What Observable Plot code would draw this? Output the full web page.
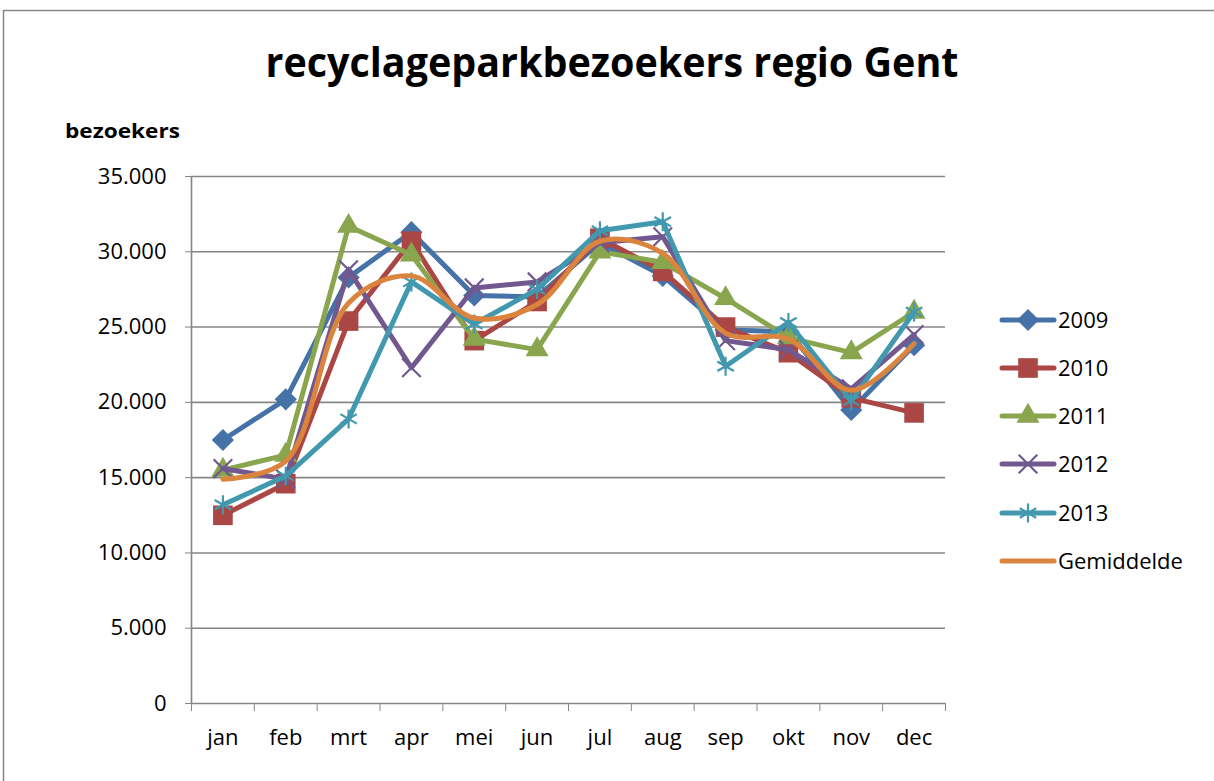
<!DOCTYPE html>
<html>
<head>
<meta charset="utf-8">
<script src="https://cdn.jsdelivr.net/npm/d3@7"></script>
<script src="https://cdn.jsdelivr.net/npm/@observablehq/plot@0.6"></script>
<style>
  html, body { margin: 0; padding: 0; background: white; }
  #chart { width: 1214px; height: 781px; overflow: hidden; }
</style>
</head>
<body>
<div id="chart"></div>
<script>
const months = ["jan","feb","mrt","apr","mei","jun","jul","aug","sep","okt","nov","dec"];
const v2009 = [17500,20200,28300,31300,27100,27000,30600,28400,24800,24700,19500,23800];
const v2010 = [12500,14600,25400,30700,24100,26700,30900,28700,25000,23300,20300,19300];
const v2011 = [15500,16500,31700,29800,24200,23500,30000,29300,26900,24300,23300,26000];
const v2012 = [15600,14900,28800,22300,27600,28000,30600,31000,24100,23500,20900,24500];
const v2013 = [13200,15100,18900,28000,25200,27500,31400,32000,22400,25300,20100,26000];
const gemiddelde = [14900,16100,26600,28400,25600,26500,30700,29900,24600,24200,20800,23900];
const seriesNames = ["2009","2010","2011","2012","2013","Gemiddelde"];
const yTicks = [0,5000,10000,15000,20000,25000,30000,35000];
const title = "recyclageparkbezoekers regio Gent";
const yLabel = "bezoekers";

const colors = ["#4572A7","#AA4643","#89A54E","#71588F","#4198AF","#DB843D"];
const symbols = ["diamond2","square2","triangle2","times","asterisk",null];
const radii = [10,12.5,11,8.5,9,0];
const seriesValues = [v2009,v2010,v2011,v2012,v2013,gemiddelde];

const rows = seriesValues.map(vals => vals.map((v,i) => ({i, v})));
const boundaries = d3.range(months.length + 1).map(k => k - 0.5);
const fmt = d => d === 0 ? "0" : d3.format(",")(d).replace(/,/g, ".");
const grey = "#868686";
const font = "'Open Sans', sans-serif";

const marks = [
  Plot.ruleY(yTicks, {stroke: grey, strokeWidth: 1.6}),
  Plot.ruleX([-0.5], {stroke: grey, strokeWidth: 1.6}),
  Plot.axisY({ticks: yTicks, tickFormat: fmt, tickSize: 6, tickPadding: 19, stroke: grey, label: null}),
  Plot.axisX({ticks: boundaries, tickFormat: () => "", tickSize: 8, stroke: grey, label: null}),
  Plot.axisX({ticks: d3.range(months.length), tickFormat: i => months[i], tickSize: 0, tickPadding: 26, label: null})
];
rows.forEach((data, s) => {
  const isAvg = symbols[s] === null;
  marks.push(Plot.line(data, {x: "i", y: "v", stroke: colors[s], strokeWidth: 5,
    curve: isAvg ? "catmull-rom" : "linear", strokeLinejoin: "round", strokeLinecap: "round"}));
  if (!isAvg) {
    const stroked = symbols[s] === "times" || symbols[s] === "asterisk";
    marks.push(Plot.dot(data, {x: "i", y: "v", symbol: () => symbols[s], r: radii[s],
      fill: stroked ? "none" : colors[s], stroke: stroked ? colors[s] : "none", strokeWidth: stroked ? 2.2 : 0}));
  }
});

const plot = Plot.plot({
  width: 1214, height: 781,
  marginLeft: 191, marginRight: 269, marginTop: 176, marginBottom: 78,
  x: {type: "linear", domain: [-0.5, 11.5]},
  y: {domain: [0, 35000]},
  symbol: {type: "identity"},
  style: {fontFamily: font, fontSize: "22px", color: "black", background: "white", overflow: "visible"},
  marks
});
document.getElementById("chart").appendChild(plot);

const svg = d3.select(plot);
svg.append("rect").attr("x", 3.5).attr("y", 10.5).attr("width", 1300).attr("height", 900)
  .attr("fill", "none").attr("stroke", grey).attr("stroke-width", 1.5);
svg.append("text").text(title).attr("x", 612).attr("y", 77).attr("text-anchor", "middle")
  .attr("font-family", font).attr("font-weight", "bold").attr("font-size", 42)
  .attr("textLength", 693).attr("lengthAdjust", "spacingAndGlyphs").attr("fill", "black");
svg.append("text").text(yLabel).attr("x", 65).attr("y", 138).attr("text-anchor", "start")
  .attr("font-family", font).attr("font-weight", "bold").attr("font-size", 20)
  .attr("textLength", 115).attr("lengthAdjust", "spacingAndGlyphs").attr("fill", "black");

const symMap = {diamond2: d3.symbolDiamond2, square2: d3.symbolSquare2, triangle2: d3.symbolTriangle2, times: d3.symbolTimes, asterisk: d3.symbolAsterisk};
const legendY = [320, 368, 416, 464, 513, 561];
seriesNames.forEach((name, s) => {
  const g = svg.append("g").attr("transform", `translate(0,${legendY[s]})`);
  g.append("line").attr("x1", 1002).attr("x2", 1054).attr("y1", 0).attr("y2", 0)
    .attr("stroke", colors[s]).attr("stroke-width", 5).attr("stroke-linecap", "round");
  if (symbols[s]) {
    const stroked = symbols[s] === "times" || symbols[s] === "asterisk";
    g.append("path").attr("transform", "translate(1028,0)")
      .attr("d", d3.symbol(symMap[symbols[s]], Math.PI * radii[s] * radii[s])())
      .attr("fill", stroked ? "none" : colors[s]).attr("stroke", stroked ? colors[s] : "none")
      .attr("stroke-width", stroked ? 2.2 : 0);
  }
  g.append("text").text(name).attr("x", 1058).attr("y", 0).attr("dy", "0.36em").attr("text-anchor", "start")
    .attr("font-family", font).attr("font-size", 22).attr("fill", "black");
});
</script>
</body>
</html>
